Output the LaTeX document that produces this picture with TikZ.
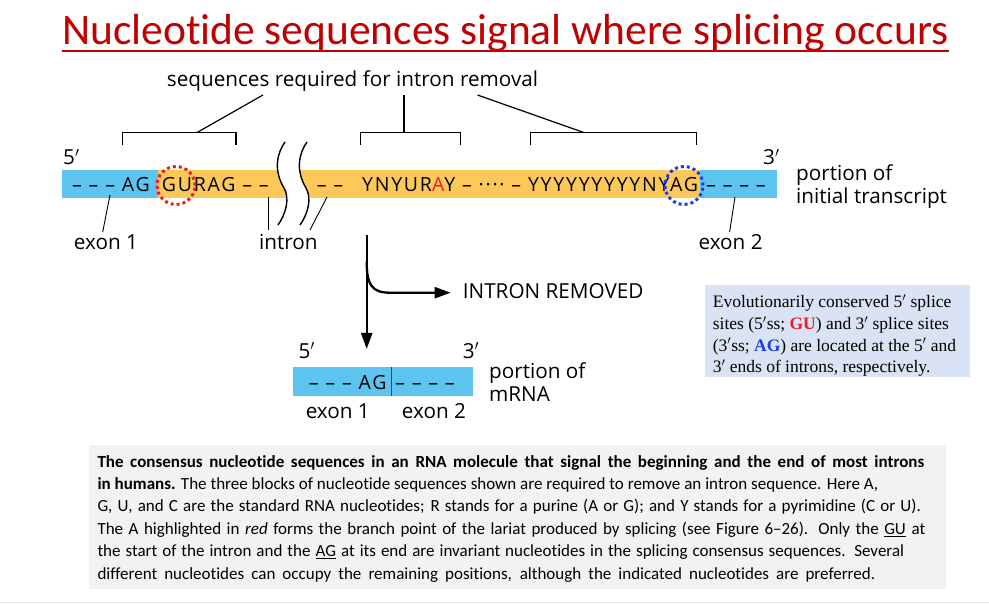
\documentclass[tikz,border=0pt]{standalone}
\usepackage{fontspec}
\setmainfont[Ligatures={TeX,NoCommon}]{Carlito}
\newfontfamily\labelfont{Open Sans}
\newfontfamily\seqfont[LetterSpace=9]{Open Sans}
\newfontfamily\notefont{Liberation Serif}
\usetikzlibrary{positioning, arrows.meta}

\definecolor{exonblue}{RGB}{93,196,240}
\definecolor{intronorange}{RGB}{253,200,90}
\definecolor{titlered}{RGB}{192,0,0}
\definecolor{ssred}{RGB}{237,28,36}
\definecolor{ssblue}{RGB}{30,60,230}
\definecolor{divblue}{RGB}{30,70,150}
\definecolor{notebg}{RGB}{218,227,243}
\definecolor{capbg}{RGB}{242,242,242}

\newcommand{\prm}{\ensuremath{{}^{\prime}}}
\newcommand{\capline}[2]{\makebox[#1][s]{#2}}

\begin{document}
\begin{tikzpicture}[
    x=1pt, y=-1pt,
    exonstrip/.style={rectangle, fill=exonblue, inner sep=0pt, minimum height=28pt, anchor=north west},
    intronstrip/.style={exonstrip, fill=intronorange},
    seqtext/.style={inner sep=0pt, font=\seqfont\fontsize{19.5}{22}\selectfont},
    lbl/.style={inner sep=0pt, font=\labelfont\fontsize{20.7}{23}\selectfont},
    ssring/.style={circle, draw, line width=3pt, dash pattern=on 3pt off 3pt, minimum size=38pt, inner sep=0pt},
    bracket/.style={draw, line width=1.2pt},
    pointer/.style={draw, line width=0.9pt},
    breakline/.style={draw, line width=1.4pt},
    flow/.style={draw, line width=2.3pt, -{Triangle[length=16pt, width=11pt]}},
    panel/.style={rectangle, anchor=north west, inner sep=0pt},
    infotext/.style={anchor=north west, inner sep=0pt, align=left}
]

\useasboundingbox (0,0) rectangle (989,604);

% Title
\node[inner sep=0pt, anchor=base west, text=titlered, font=\fontsize{43.5}{50}\selectfont] (title) at (62,45) {Nucleotide sequences signal where splicing occurs};
\draw[titlered, line width=2.2pt] ([yshift=-6pt]title.base west) -- ([yshift=-6pt]title.base east);

% Initial transcript
\node[exonstrip, minimum width=96.2pt] (exonA) at (61.5,170) {};
\node[intronstrip, minimum width=542.3pt] (intron) at (157.7,170) {};
\node[exonstrip, minimum width=76.7pt] (exonB) at (700,170) {};

% Break in the intron
\fill[white] (285,142) .. controls (274,158) and (276,175) .. (284,188) .. controls (290,198) and (286,214) .. (278,225)
    -- (300,225) .. controls (308,214) and (312,198) .. (306,188) .. controls (298,175) and (296,158) .. (307,142) -- cycle;
\draw[breakline] (285,142) .. controls (274,158) and (276,175) .. (284,188) .. controls (290,198) and (286,214) .. (278,225);
\draw[breakline] (307,142) .. controls (296,158) and (298,175) .. (306,188) .. controls (312,198) and (308,214) .. (300,225);

% Sequences
\node[seqtext, anchor=base east] (seqA) at (150,191.7) {– – – AG};
\node[seqtext, anchor=base west] (seqB) at (161.7,191.7) {GURAG – –};
\node[seqtext, anchor=base west] (seqC) at (316.7,191.7) {– –};
\node[seqtext, anchor=base west] (seqD) at (362,191.7) {YNYUR{\color{ssred}A}Y – ···· – YYYYYYYYYNYAG};
\node[seqtext, anchor=base west] (seqE) at (706,191.7) {– – – –};

% Splice sites
\node[ssring, draw=ssred] (gu) at (176,185.5) {};
\node[ssring, draw=ssblue] (ag) at (684,185.5) {};

\node[lbl, anchor=base west] (fiveA) at (63,165) {5\prm};
\node[lbl, anchor=base west] (threeA) at (763,165) {3\prm};
\node[lbl, anchor=base west] (portionA) at (796,180.5) {portion of};
\node[lbl, anchor=base west] (portionB) at (796,203.5) {initial transcript};

% Required sequences
\node[lbl, anchor=base] (required) at (352.5,86.5) {sequences required for intron removal};
\coordinate (reqA) at (263,95);
\coordinate (reqB) at (404,95);
\coordinate (reqC) at (477.5,95);
\coordinate (brA) at (196.7,132.7);
\coordinate (brB) at (404,132.7);
\coordinate (brC) at (584.3,132.7);
\draw[bracket] (122.7,145) |- (236,132.7) -- (236,145);
\draw[bracket] (360.7,145) |- (460.7,132.7) -- (460.7,145);
\draw[bracket] (530.2,145) |- (696.2,132.7) -- (696.2,145);
\draw[bracket] (brA) -- (reqA);
\draw[bracket] (brB) -- (reqB);
\draw[bracket] (brC) -- (reqC);

% Labels
\node[lbl, anchor=base] (lblexonA) at (106,250) {exon 1};
\node[lbl, anchor=base] (lblintron) at (288.3,250) {intron};
\node[lbl, anchor=base] (lblexonB) at (730.6,250) {exon 2};
\coordinate (ptA) at (110,195);
\coordinate (ptB) at (268,197);
\coordinate (ptC) at (327,197);
\coordinate (ptD) at (735,197);
\draw[pointer] (ptA) -- (102.7,232);
\draw[pointer] (ptB) -- (268,230);
\draw[pointer] (ptC) -- (310,230);
\draw[pointer] (ptD) -- (729.6,232);

% Splicing
\coordinate (split) at (366.7,235);
\coordinate (fork) at (366.7,262);
\node[lbl, anchor=base west] (removed) at (462.7,298.3) {INTRON REMOVED};
\draw[flow] (split) -- (366.7,349);
\draw[flow] (fork) .. controls (366.7,285) and (372,292.7) .. (390,292.7) -- ([xshift=-12pt]removed.west |- 0,292.7);

% mRNA
\node[exonstrip, minimum width=98.7pt, minimum height=28.4pt] (mrnaA) at (292.3,367.3) {};
\node[exonstrip, minimum width=81.3pt, minimum height=28.4pt] (mrnaB) at (391,367.3) {};
\draw[divblue, line width=1.2pt] (mrnaA.north east) -- (mrnaA.south east);
\node[seqtext, anchor=base east] (mseqA) at (386.7,389.3) {– – – AG};
\node[seqtext, anchor=base west] (mseqB) at (395,389.3) {– – – –};
\node[lbl, anchor=base west] (fiveB) at (298.3,358.3) {5\prm};
\node[lbl, anchor=base west] (threeB) at (462.7,358.3) {3\prm};
\node[lbl, anchor=base] (lblexonC) at (337.8,418.3) {exon 1};
\node[lbl, anchor=base] (lblexonD) at (434,418.3) {exon 2};
\node[lbl, anchor=base west] (mportA) at (489,378.3) {portion of};
\node[lbl, anchor=base west] (mportB) at (489,401.7) {mRNA};

% Note
\node[panel, fill=notebg, minimum width=265pt, minimum height=91.7pt] (notebox) at (705,285) {};
\node[infotext, font=\notefont\fontsize{17.5}{21.7}\selectfont] (note) at (712.7,294.5)
    {Evolutionarily conserved 5\prm{} splice\\
     sites (5\prm ss; \textbf{\color{ssred}GU}) and 3\prm{} splice sites\\
     (3\prm ss; \textbf{\color{ssblue}AG}) are located at the 5\prm{} and\\
     3\prm{} ends of introns, respectively.};

% Caption
\node[panel, fill=capbg, minimum width=857.7pt, minimum height=143.3pt] (capbox) at (88.3,445) {};
\node[infotext, font=\fontsize{17}{22.4}\selectfont] (caption) at (97.3,455)
    {\capline{826.7pt}{\textbf{The consensus nucleotide sequences in an RNA molecule that signal the beginning and the end of most introns}}\\
     \capline{780.7pt}{\textbf{in humans.} The three blocks of nucleotide sequences shown are required to remove an intron sequence. Here A,}\\
     \capline{823.4pt}{G, U, and C are the standard RNA nucleotides; R stands for a purine (A or G); and Y stands for a pyrimidine (C or U).}\\
     \capline{827.7pt}{The A highlighted in \textit{red} forms the branch point of the lariat produced by splicing (see Figure 6--26). Only the \underline{GU} at}\\
     \capline{806.7pt}{the start of the intron and the \underline{AG} at its end are invariant nucleotides in the splicing consensus sequences. Several}\\
     \capline{777.7pt}{different nucleotides can occupy the remaining positions, although the indicated nucleotides are preferred.}};

\draw[gray!20, line width=1pt] (0,602.5) -- (989,602.5);

\end{tikzpicture}
\end{document}
